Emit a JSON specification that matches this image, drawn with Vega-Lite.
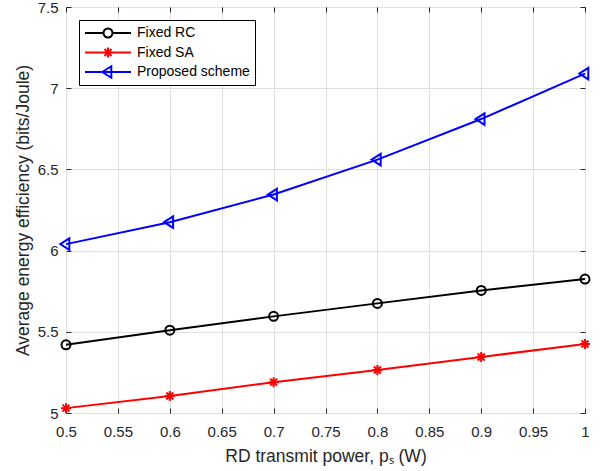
{
  "$schema": "https://vega.github.io/schema/vega-lite/v6.json",
  "width": 519,
  "height": 406,
  "autosize": {"type": "none"},
  "padding": {"left": 66, "top": 7, "right": 16, "bottom": 58},
  "data": {
    "values": [
      {"p": 0.5, "series": "Fixed RC", "ee": 5.42},
      {"p": 0.6, "series": "Fixed RC", "ee": 5.51},
      {"p": 0.7, "series": "Fixed RC", "ee": 5.595},
      {"p": 0.8, "series": "Fixed RC", "ee": 5.675},
      {"p": 0.9, "series": "Fixed RC", "ee": 5.755},
      {"p": 1.0, "series": "Fixed RC", "ee": 5.825},
      {"p": 0.5, "series": "Fixed SA", "ee": 5.03},
      {"p": 0.6, "series": "Fixed SA", "ee": 5.105},
      {"p": 0.7, "series": "Fixed SA", "ee": 5.19},
      {"p": 0.8, "series": "Fixed SA", "ee": 5.265},
      {"p": 0.9, "series": "Fixed SA", "ee": 5.345},
      {"p": 1.0, "series": "Fixed SA", "ee": 5.425},
      {"p": 0.5, "series": "Proposed scheme", "ee": 6.04},
      {"p": 0.6, "series": "Proposed scheme", "ee": 6.175},
      {"p": 0.7, "series": "Proposed scheme", "ee": 6.345},
      {"p": 0.8, "series": "Proposed scheme", "ee": 6.56},
      {"p": 0.9, "series": "Proposed scheme", "ee": 6.81},
      {"p": 1.0, "series": "Proposed scheme", "ee": 7.09}
    ]
  },
  "layer": [
    {
      "mark": {"type": "line", "strokeWidth": 2},
      "encoding": {
        "x": {
          "field": "p", "type": "quantitative",
          "scale": {"domain": [0.5, 1], "nice": false, "zero": false},
          "axis": {
            "orient": "bottom",
            "values": [0.5, 0.55, 0.6, 0.65, 0.7, 0.75, 0.8, 0.85, 0.9, 0.95, 1],
            "format": "~g",
            "labelPadding": 16,
            "title": "RD transmit power, pₛ (W)",
            "titlePadding": 8,
            "grid": true
          }
        },
        "y": {
          "field": "ee", "type": "quantitative",
          "scale": {"domain": [5, 7.5], "nice": false, "zero": false},
          "axis": {
            "orient": "left",
            "values": [5, 5.5, 6, 6.5, 7, 7.5],
            "format": "~g",
            "labelPadding": 13,
            "title": "Average energy efficiency (bits/Joule)",
            "titlePadding": 5,
            "grid": true
          }
        },
        "color": {
          "field": "series", "type": "nominal",
          "scale": {"domain": ["Fixed RC", "Fixed SA", "Proposed scheme"], "range": ["#000000", "#ff0000", "#0000ff"]},
          "legend": null
        }
      }
    },
    {
      "mark": {"type": "point", "filled": false, "strokeWidth": 2, "opacity": 1, "size": 100},
      "encoding": {
        "x": {
          "field": "p", "type": "quantitative",
          "axis": {
            "orient": "top",
            "values": [0.5, 0.55, 0.6, 0.65, 0.7, 0.75, 0.8, 0.85, 0.9, 0.95, 1],
            "labels": false, "title": null, "grid": false
          }
        },
        "y": {
          "field": "ee", "type": "quantitative",
          "axis": {
            "orient": "right",
            "values": [5, 5.5, 6, 6.5, 7, 7.5],
            "labels": false, "title": null, "grid": false
          }
        },
        "color": {
          "field": "series", "type": "nominal",
          "legend": null
        },
        "shape": {
          "field": "series", "type": "nominal",
          "scale": {"domain": ["Fixed RC", "Fixed SA", "Proposed scheme"], "range": ["M0.9,0A0.9,0.9,0,1,1,-0.9,0A0.9,0.9,0,1,1,0.9,0Z", "M-1,0L1,0M0,-1L0,1M-0.7,-0.7L0.7,0.7M-0.7,0.7L0.7,-0.7", "M-1.15,0L0.66,-1.15L0.66,1.15Z"]},
          "legend": null
        }
      }
    },
    {
      "mark": {"type": "point", "filled": false, "strokeWidth": 2, "opacity": 0, "size": 100},
      "encoding": {
        "x": {"field": "p", "type": "quantitative", "axis": null},
        "y": {"field": "ee", "type": "quantitative", "axis": null},
        "color": {
          "field": "series", "type": "nominal",
          "legend": {"symbolOpacity": 1}
        },
        "shape": {
          "field": "series", "type": "nominal",
          "scale": {"domain": ["Fixed RC", "Fixed SA", "Proposed scheme"], "range": ["M-1,0L-0.196,0M0.196,0L1,0M0.196,0A0.196,0.196,0,1,1,-0.196,0A0.196,0.196,0,1,1,0.196,0Z", "M-1,0L1,0M0,-0.217L0,0.217M-0.154,-0.154L0.154,0.154M-0.154,0.154L0.154,-0.154", "M-1,0L1,0M-0.25,0L0.144,-0.25L0.144,0.25Z"]},
          "legend": {"symbolOpacity": 1}
        }
      }
    }
  ],
  "resolve": {"axis": {"x": "independent", "y": "independent"}, "scale": {"shape": "independent"}, "legend": {"shape": "independent", "color": "independent"}},
  "config": {
    "font": "Liberation Sans",
    "view": {"stroke": "#262626", "strokeWidth": 1},
    "axis": {
      "domain": false,
      "tickSize": -5,
      "tickColor": "#262626",
      "tickWidth": 1,
      "labelFlush": false,
      "gridColor": "#dfdfdf",
      "gridWidth": 1,
      "labelFont": "Liberation Sans",
      "labelFontSize": 15,
      "labelColor": "#262626",
      "titleFont": "Liberation Sans",
      "titleFontSize": 17.5,
      "titleFontWeight": "normal",
      "titleColor": "#262626"
    },
    "legend": {
      "title": null,
      "orient": "top-left",
      "offset": 13,
      "padding": 5,
      "strokeColor": "#000000",
      "fillColor": "#ffffff",
      "symbolSize": 2116,
      "clipHeight": 16,
      "rowPadding": 3.5,
      "labelOffset": 5,
      "labelFont": "Liberation Sans",
      "labelFontSize": 14,
      "labelColor": "#000000",
      "symbolStrokeWidth": 2,
      "symbolFillColor": "transparent",
      "symbolOpacity": 1
    }
  }
}
